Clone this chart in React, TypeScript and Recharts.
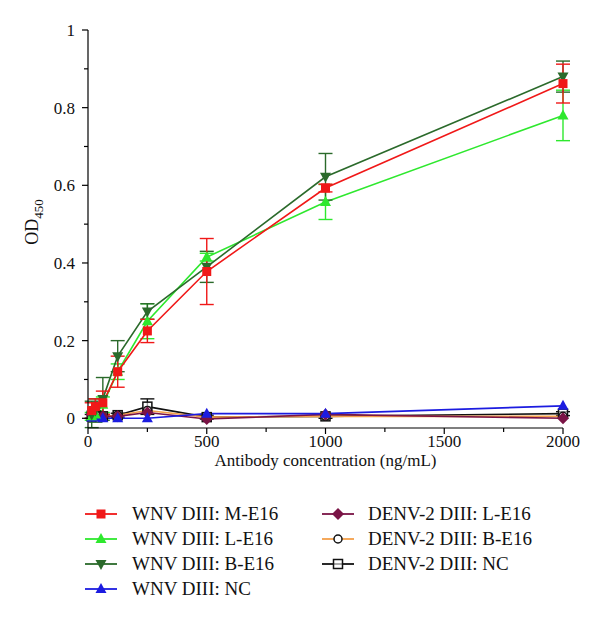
import { CartesianGrid, ErrorBar, Line, LineChart, XAxis, YAxis } from "recharts";

const concentrations = [15.625, 31.25, 62.5, 125, 250, 500, 1000, 2000];

const wnvM = [0.02, 0.03, 0.04, 0.12, 0.225, 0.378, 0.593, 0.862];
const wnvMErr = [0.02, 0.02, 0.03, 0.04, 0.03, 0.085, 0.01, 0.05];
const wnvL = [0.005, 0.01, 0.035, 0.12, 0.25, 0.415, 0.557, 0.78];
const wnvLErr = [0.01, 0.01, 0.02, 0.02, 0.045, 0.01, 0.045, 0.065];
const wnvB = [0.01, 0.02, 0.05, 0.16, 0.275, 0.39, 0.622, 0.88];
const wnvBErr = [0.034, 0.03, 0.055, 0.04, 0.02, 0.04, 0.06, 0.04];
const wnvNC = [0.002, 0.003, 0.0, 0.0, 0.0, 0.012, 0.012, 0.032];
const denvL = [0.01, 0.028, 0.005, 0.005, 0.015, -0.002, 0.01, 0.0];
const denvB = [0.005, 0.01, 0.005, 0.008, 0.02, 0.003, 0.005, 0.005];
const denvNC = [0.005, 0.008, 0.005, 0.008, 0.03, 0.003, 0.005, 0.012];
const denvNCErr = [0.005, 0.005, 0.005, 0.005, 0.02, 0.005, 0.005, 0.005];

const xTicks = [0, 250, 500, 750, 1000, 1250, 1500, 1750, 2000];
const yTicks = [0, 0.1, 0.2, 0.3, 0.4, 0.5, 0.6, 0.7, 0.8, 0.9, 1];

const data = concentrations.map((c, i) => ({
  conc: c,
  wnvM: wnvM[i],
  wnvMErr: wnvMErr[i],
  wnvL: wnvL[i],
  wnvLErr: wnvLErr[i],
  wnvB: wnvB[i],
  wnvBErr: wnvBErr[i],
  wnvNC: wnvNC[i],
  denvL: denvL[i],
  denvB: denvB[i],
  denvNC: denvNC[i],
  denvNCErr: denvNCErr[i],
}));

type Shape = "square" | "triUp" | "triDown" | "diamond" | "circleOpen" | "squareOpen";

const series: { key: string; name: string; color: string; shape: Shape; err?: string }[] = [
  { key: "denvNC", name: "DENV-2 DIII: NC", color: "#111111", shape: "squareOpen", err: "denvNCErr" },
  { key: "denvB", name: "DENV-2 DIII: B-E16", color: "#f4a04a", shape: "circleOpen" },
  { key: "denvL", name: "DENV-2 DIII: L-E16", color: "#7a1446", shape: "diamond" },
  { key: "wnvNC", name: "WNV DIII: NC", color: "#1c1ce0", shape: "triUp" },
  { key: "wnvL", name: "WNV DIII: L-E16", color: "#2ee82e", shape: "triUp", err: "wnvLErr" },
  { key: "wnvB", name: "WNV DIII: B-E16", color: "#2b6a2b", shape: "triDown", err: "wnvBErr" },
  { key: "wnvM", name: "WNV DIII: M-E16", color: "#f01818", shape: "square", err: "wnvMErr" },
];

const legendLeft = ["wnvM", "wnvL", "wnvB", "wnvNC"];
const legendRight = ["denvL", "denvB", "denvNC"];

const FONT = "'Liberation Serif', 'Times New Roman', serif";

function Marker({ cx, cy, shape, color }: { cx: number; cy: number; shape: Shape; color: string }) {
  if (cx == null || cy == null) return null;
  switch (shape) {
    case "square":
      return <rect x={cx - 4.5} y={cy - 4.5} width={9} height={9} fill={color} />;
    case "triUp":
      return <path d={`M${cx},${cy - 6} L${cx + 5.5},${cy + 4} L${cx - 5.5},${cy + 4} Z`} fill={color} />;
    case "triDown":
      return <path d={`M${cx},${cy + 6} L${cx + 5.5},${cy - 4} L${cx - 5.5},${cy - 4} Z`} fill={color} />;
    case "diamond":
      return <path d={`M${cx},${cy - 6} L${cx + 6},${cy} L${cx},${cy + 6} L${cx - 6},${cy} Z`} fill={color} />;
    case "circleOpen":
      return <circle cx={cx} cy={cy} r={4} fill="#fff" stroke="#111" strokeWidth={1.5} />;
    case "squareOpen":
      return <rect x={cx - 4.5} y={cy - 4.5} width={9} height={9} fill="#fff" fillOpacity={0.6} stroke="#111" strokeWidth={1.5} />;
  }
  return null;
}

function XTick({ x, y, payload }: any) {
  const v = payload.value;
  const major = v % 500 === 0;
  return (
    <g>
      <line x1={x} x2={x} y1={y} y2={y + (major ? 6 : 4)} stroke="#000" strokeWidth={1.2} />
      {major && (
        <text x={x} y={y + 19} textAnchor="middle" fontSize={17} style={{ fontFamily: FONT }} fill="#111">
          {v}
        </text>
      )}
    </g>
  );
}

function YTick({ x, y, payload }: any) {
  const v = payload.value;
  const major = Math.round(v * 10) % 2 === 0;
  return (
    <g>
      <line x1={x - (major ? 6 : 4)} x2={x} y1={y} y2={y} stroke="#000" strokeWidth={1.2} />
      {major && (
        <text x={x - 13} y={y + 6} textAnchor="end" fontSize={17} style={{ fontFamily: FONT }} fill="#111">
          {Number(v.toFixed(1))}
        </text>
      )}
    </g>
  );
}

function LegendIcon({ shape, color }: { shape: Shape; color: string }) {
  return (
    <svg width={32} height={14} style={{ display: "block" }}>
      <line x1={0} x2={32} y1={7} y2={7} stroke={color} strokeWidth={1.8} />
      <Marker cx={16} cy={7} shape={shape} color={color} />
    </svg>
  );
}

function LegendColumn({ keys, left, textLeft }: { keys: string[]; left: number; textLeft: number }) {
  return (
    <>
      {keys.map((k, i) => {
        const s = series.find((d) => d.key === k)!;
        const cy = 514 + i * 25;
        return (
          <div key={k}>
            <div style={{ position: "absolute", left, top: cy - 7 }}>
              <LegendIcon shape={s.shape} color={s.color} />
            </div>
            <div
              style={{
                position: "absolute",
                left: textLeft,
                top: cy - 12,
                fontFamily: FONT,
                fontSize: 19,
                lineHeight: "24px",
                color: "#111",
                whiteSpace: "nowrap",
              }}
            >
              {s.name}
            </div>
          </div>
        );
      })}
    </>
  );
}

export default function App() {
  return (
    <div style={{ position: "absolute", left: 0, top: 0, width: 600, height: 618, background: "#fff" }}>
      <LineChart
        width={600}
        height={480}
        data={data}
        margin={{ top: 30, right: 37, left: 8, bottom: 0 }}
      >
        <CartesianGrid stroke="none" />
        <XAxis
          dataKey="conc"
          type="number"
          domain={[0, 2000]}
          ticks={xTicks}
          interval={0}
          tickSize={0}
          tickMargin={0}
          tickLine={false}
          tick={<XTick />}
          axisLine={{ stroke: "#000", strokeWidth: 1.2 }}
          height={52}
          label={{
            value: "Antibody concentration (ng/mL)",
            position: "insideBottom",
            offset: 14,
            style: { fontFamily: FONT, fontSize: 17, fill: "#111" },
          }}
        />
        <YAxis
          type="number"
          domain={[-0.025, 1]}
          ticks={yTicks}
          interval={0}
          tickSize={0}
          tickMargin={0}
          tickLine={false}
          tick={<YTick />}
          axisLine={{ stroke: "#000", strokeWidth: 1.2 }}
          width={80}
          label={() => (
            <text
              x={38}
              y={222}
              transform="rotate(-90 38 222)"
              textAnchor="middle"
              style={{ fontFamily: FONT }}
              fontSize={18}
              fill="#111"
            >
              OD
              <tspan fontSize={13} dy={5}>
                450
              </tspan>
            </text>
          )}
        />
        {series.map((s) => (
          <Line
            key={s.key}
            dataKey={s.key}
            name={s.name}
            type="linear"
            stroke={s.color}
            strokeWidth={1.6}
            isAnimationActive={false}
            dot={(p: any) => (
              <Marker key={`${s.key}-${p.index}`} cx={p.cx} cy={p.cy} shape={s.shape} color={s.color} />
            )}
            activeDot={false}
          >
            {s.err && (
              <ErrorBar dataKey={s.err} direction="y" width={7} stroke={s.color} strokeWidth={1.4} />
            )}
          </Line>
        ))}
      </LineChart>
      <LegendColumn keys={legendLeft} left={85} textLeft={132} />
      <LegendColumn keys={legendRight} left={322} textLeft={368} />
    </div>
  );
}
